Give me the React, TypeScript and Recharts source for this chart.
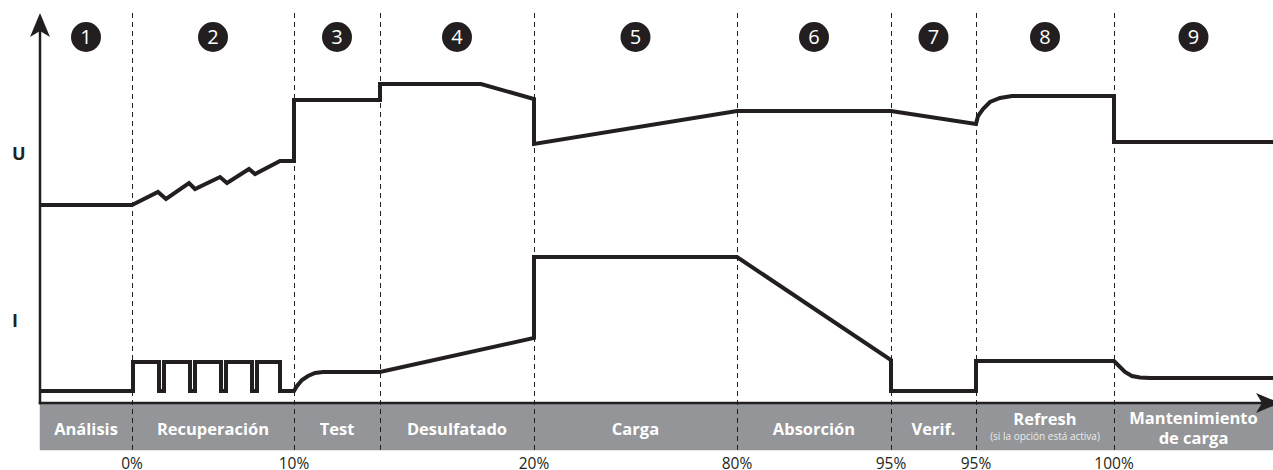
import React from 'react';
import { LineChart, Line, XAxis, YAxis, ReferenceLine, ReferenceArea, ReferenceDot } from 'recharts';

// Time axis (arbitrary schematic units) and signal levels (arbitrary units)
const phaseBounds = [0, 92, 254, 340, 494, 697, 851, 936, 1074, 1233];
const phaseNumbers = ['1', '2', '3', '4', '5', '6', '7', '8', '9'];
const phaseNames = ['Análisis', 'Recuperación', 'Test', 'Desulfatado', 'Carga', 'Absorción', 'Verif.', 'Refresh', 'Mantenimiento\nde carga'];
const phaseNotes = ['', '', '', '', '', '', '', '(si la opción está activa)', ''];
const boundaryTimes = [92, 254, 340, 494, 697, 851, 936, 1074];
const boundaryLabels = ['0%', '10%', '', '20%', '80%', '95%', '95%', '100%'];

const voltageTime = [0, 92, 118, 126, 149, 155, 180, 187, 209, 215, 240, 254, 254, 340, 340, 441, 494, 494, 697, 851, 936, 938, 943, 950, 960, 972, 1074, 1074, 1233];
const voltageLevel = [198, 198, 211, 204, 220, 214, 226, 220, 234, 229, 242, 242, 303, 303, 319, 319, 304, 259, 292, 292, 279, 287, 294, 301, 305, 307, 307, 261, 261];

const currentTime = [0, 93, 93, 119, 119, 124, 124, 150, 150, 155, 155, 181, 181, 186, 186, 212, 212, 217, 217, 240, 240, 254, 257, 262, 268, 275, 283, 340, 494, 494, 697, 851, 851, 936, 936, 1074, 1079, 1085, 1092, 1100, 1110, 1233];
const currentLevel = [12, 12, 41, 41, 12, 12, 41, 41, 12, 12, 41, 41, 12, 12, 41, 41, 12, 12, 41, 41, 12, 12, 17, 23, 27, 30, 31, 31, 65, 146, 146, 43, 12, 12, 42, 42, 37, 31, 27, 25.5, 25, 25];

const axisNames = ['U', 'I'];
const axisNameLevels = [250, 83];

const voltageData = voltageTime.map((t, k) => ({ t, v: voltageLevel[k] }));
const currentData = currentTime.map((t, k) => ({ t, v: currentLevel[k] }));

const INK = '#231f20';
const BAND = '#939598';
const FONT = '"Open Sans", "Noto Sans", sans-serif';

const ArrowShape = (p: any) => {
  const { x1, y1, x2, y2 } = p;
  const dx = x2 - x1;
  const dy = y2 - y1;
  const len = Math.hypot(dx, dy) || 1;
  const ux = dx / len;
  const uy = dy / len;
  const nx = -uy;
  const ny = ux;
  const L = 24;
  const W = 10;
  const N = 18;
  const bx = x2 - ux * L;
  const by = y2 - uy * L;
  const pts = `${x2},${y2} ${bx + nx * W},${by + ny * W} ${x2 - ux * N},${y2 - uy * N} ${bx - nx * W},${by - ny * W}`;
  return (
    <g>
      <line x1={x1} y1={y1} x2={x2 - ux * N} y2={y2 - uy * N} stroke={INK} strokeWidth={2.5} strokeLinecap="square" />
      <polygon points={pts} fill={INK} />
    </g>
  );
};

const DashShape = (p: any) => {
  const { x1, y1, x2, y2 } = p;
  return (
    <line x1={x1 + 0.5} y1={y1} x2={x2 + 0.5} y2={y2} stroke={INK} strokeWidth={1} strokeDasharray="5 4" shapeRendering="crispEdges" />
  );
};

const BandLabel = (props: any) => {
  const vb = props.viewBox || {};
  const cx = vb.x + vb.width / 2;
  const cy = vb.y + vb.height / 2;
  const name: string = props.name;
  const note: string = props.note;
  const main = { fill: '#ffffff', fontSize: 16.5, fontWeight: 700, fontFamily: FONT, textAnchor: 'middle' as const, dominantBaseline: 'central' as const };
  if (name.includes('\n')) {
    const [a, b] = name.split('\n');
    return (
      <g>
        <text x={cx} y={cy - 9} {...main}>{a}</text>
        <text x={cx} y={cy + 10.5} {...main}>{b}</text>
      </g>
    );
  }
  if (note) {
    return (
      <g>
        <text x={cx} y={cy - 8.5} {...main}>{name}</text>
        <text x={cx} y={cy + 9.5} fill="#ececec" fontSize={10} fontFamily={FONT} textAnchor="middle" dominantBaseline="central">{note}</text>
      </g>
    );
  }
  return <text x={cx} y={cy + 1.5} {...main}>{name}</text>;
};

const AxisNameTick = (p: any) => {
  const k = axisNameLevels.indexOf(p.payload.value);
  return (
    <text x={12} y={p.y} dominantBaseline="central" fill={INK} fontSize={18} fontWeight={700} fontFamily={FONT}>
      {axisNames[k]}
    </text>
  );
};

export default function App() {
  return (
    <div style={{ position: 'absolute', left: 0, top: 0, width: 1273, height: 470, background: '#fff', fontFamily: FONT }}>
      <LineChart width={1273} height={470} margin={{ top: 13, right: 0, bottom: 20, left: 0 }}>
        <XAxis type="number" dataKey="t" domain={[0, 1233]} hide allowDataOverflow />
        <YAxis
          type="number"
          domain={[-47, 390]}
          width={40}
          ticks={axisNameLevels}
          axisLine={false}
          tickLine={false}
          tick={<AxisNameTick />}
          allowDataOverflow
        />
        {phaseNames.map((name, k) => (
          <ReferenceArea
            key={'band' + k}
            x1={phaseBounds[k]}
            x2={phaseBounds[k + 1]}
            y1={-47}
            y2={0}
            fill={BAND}
            fillOpacity={1}
            stroke={BAND}
            strokeWidth={0.5}
            label={<BandLabel name={name} note={phaseNotes[k]} />}
          />
        ))}
        {boundaryTimes.map((t, k) => (
          <ReferenceLine
            key={'b' + k}
            x={t}
            stroke={INK}
            shape={DashShape}
            label={boundaryLabels[k] ? { value: boundaryLabels[k], position: 'bottom', offset: 8, fill: INK, fontSize: 15.5, fontFamily: FONT } : undefined}
          />
        ))}
        <ReferenceLine segment={[{ x: 0, y: 0 }, { x: 1240, y: 0 }]} ifOverflow="visible" shape={ArrowShape} />
        <ReferenceLine segment={[{ x: 0, y: 0 }, { x: 0, y: 390 }]} ifOverflow="visible" shape={ArrowShape} />
        {phaseNumbers.map((n, k) => (
          <ReferenceDot
            key={'n' + k}
            x={(phaseBounds[k] + phaseBounds[k + 1]) / 2}
            y={366}
            r={15}
            fill={INK}
            stroke="none"
            label={{ value: n, position: 'center', fill: '#ffffff', fontSize: 20, fontFamily: FONT }}
          />
        ))}
        <Line data={voltageData} dataKey="v" type="linear" stroke={INK} strokeWidth={4} dot={false} activeDot={false} isAnimationActive={false} strokeLinejoin="miter" />
        <Line data={currentData} dataKey="v" type="linear" stroke={INK} strokeWidth={4} dot={false} activeDot={false} isAnimationActive={false} strokeLinejoin="miter" />
      </LineChart>
    </div>
  );
}
